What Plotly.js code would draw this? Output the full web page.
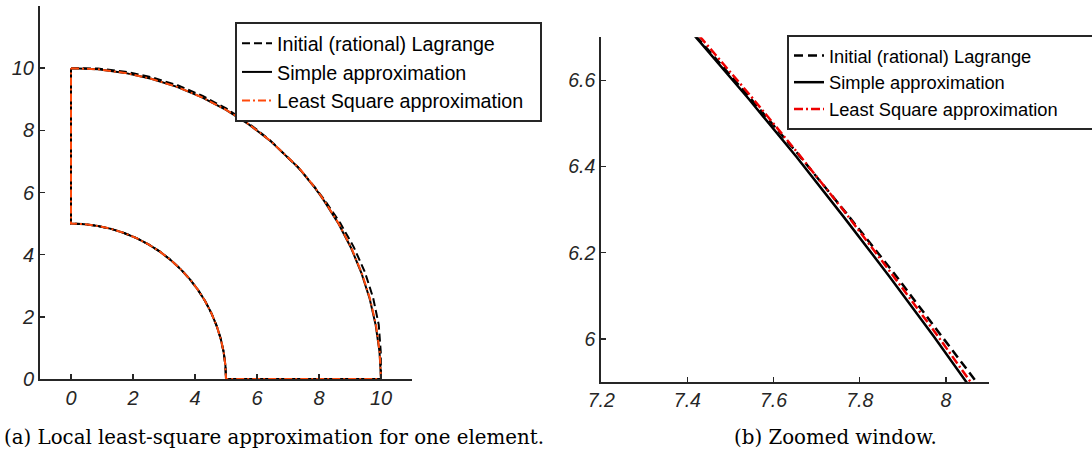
<!DOCTYPE html>
<html>
<head>
<meta charset="utf-8">
<script src="https://cdn.plot.ly/plotly-3.0.1.min.js"></script>
<style>
  html, body { margin: 0; padding: 0; background: #ffffff; }
  #chart { width: 1092px; height: 455px; }
</style>
</head>
<body>
<div id="chart"></div>
<script>
// ---------- data ----------
const seriesNames = ["Initial (rational) Lagrange", "Simple approximation", "Least Square approximation"];

// outer arc, from (0,10) down to (10,0)
const initialOuterX = [0, 0.8738, 1.7434, 2.6011, 3.4390, 4.2473, 5.020, 5.7501, 6.4343, 7.0725, 7.3135, 7.4307, 7.5456, 7.6589, 7.7692, 7.8777, 7.9840, 8.0886, 8.1940, 8.6863, 9.1175, 9.4768, 9.7462, 9.9269, 9.9918, 10];
const initialOuterY = [10, 9.9868, 9.8875, 9.7076, 9.4486, 9.1084, 8.6949, 8.2120, 7.6681, 7.0725, 6.8200, 6.6906, 6.5593, 6.4266, 6.2913, 6.1548, 6.0164, 5.8767, 5.7375, 5.015, 4.2516, 3.4493, 2.6115, 1.7504, 0.8742, 0];

const simpleOuterX = [0, 0.872, 1.736, 2.588, 3.420, 4.226, 5.000, 5.736, 6.428, 7.071, 7.314, 7.4292, 7.5426, 7.6535, 7.7614, 7.8675, 7.9712, 8.0724, 8.1710, 8.6343, 9.0359, 9.3687, 9.6351, 9.8284, 9.9519, 10];
const simpleOuterY = [10, 9.962, 9.848, 9.659, 9.397, 9.063, 8.660, 8.192, 7.660, 7.071, 6.820, 6.6893, 6.5567, 6.4221, 6.2850, 6.1468, 6.0068, 5.8650, 5.7215, 4.985, 4.2135, 3.4099, 2.5817, 1.7330, 0.8707, 0];

const lsqOuterX = [0, 0.872, 1.736, 2.588, 3.420, 4.226, 5.001, 5.7381, 6.4318, 7.0768, 7.3186, 7.4351, 7.5486, 7.6596, 7.7684, 7.8738, 7.9776, 8.0789, 8.1776, 8.6412, 9.0432, 9.3781, 9.6448, 9.8383, 9.9569, 10];
const lsqOuterY = [10, 9.962, 9.848, 9.659, 9.397, 9.063, 8.662, 8.1948, 7.6650, 7.0768, 6.8248, 6.6947, 6.5619, 6.4273, 6.2907, 6.1517, 6.0116, 5.8697, 5.7261, 4.989, 4.2169, 3.4134, 2.5843, 1.7348, 0.8712, 0];

// inner arc, from (5,0) up to (0,5)
const innerX = [5, 4.981, 4.924, 4.830, 4.698, 4.532, 4.330, 4.096, 3.830, 3.536, 3.214, 2.868, 2.5, 2.113, 1.710, 1.294, 0.868, 0.436, 0];
const innerY = [0, 0.436, 0.868, 1.294, 1.710, 2.113, 2.5, 2.868, 3.214, 3.536, 3.830, 4.096, 4.330, 4.532, 4.698, 4.830, 4.924, 4.981, 5];

// ticks
const leftXTicks = [0, 2, 4, 6, 8, 10];
const leftYTicks = [0, 2, 4, 6, 8, 10];
const rightXTicks = [7.2, 7.4, 7.6, 7.8, 8];
const rightXTickText = ["7.2", "7.4", "7.6", "7.8", "8"];
const rightYTicks = [6, 6.2, 6.4, 6.6];
const rightYTickText = ["6", "6.2", "6.4", "6.6"];

const captions = ["(a) Local least-square approximation for one element.", "(b) Zoomed window."];

// ---------- build closed outlines ----------
function outline(ox, oy) {
  return {
    x: ox.concat(innerX, [ox[0]]),
    y: oy.concat(innerY, [oy[0]])
  };
}
const curves = [
  outline(initialOuterX, initialOuterY),
  outline(simpleOuterX, simpleOuterY),
  outline(lsqOuterX, lsqOuterY)
];

const axisColor = '#262626';
const leftStyles = [
  {color: '#000000', width: 2, dash: '8px,4px'},
  {color: '#000000', width: 2, dash: 'solid'},
  {color: '#ff4a0c', width: 2, dash: '8px,3px,2px,3px'}
];
const rightStyles = [
  {color: '#000000', width: 2.5, dash: '9px,5px'},
  {color: '#000000', width: 2.5, dash: 'solid'},
  {color: '#ee0000', width: 2.5, dash: '9px,3px,2px,3px'}
];

const padL = '\u00a0\u00a0';
const padR = '\u00a0\u00a0\u00a0\u00a0\u00a0\u00a0';
const traces = [];
curves.forEach((c, i) => {
  traces.push({
    type: 'scatter', mode: 'lines', x: c.x, y: c.y, name: seriesNames[i] + padL,
    xaxis: 'x', yaxis: 'y', legend: 'legend', line: leftStyles[i]
  });
});
curves.forEach((c, i) => {
  traces.push({
    type: 'scatter', mode: 'lines', x: c.x, y: c.y, name: seriesNames[i] + padR,
    xaxis: 'x2', yaxis: 'y2', legend: 'legend2', line: rightStyles[i]
  });
});

const W = 1092, H = 455;
const tickFontL = {family: 'Liberation Sans, Arial, sans-serif', size: 20, color: axisColor, style: 'italic'};
const tickFontR = {family: 'Liberation Sans, Arial, sans-serif', size: 19.5, color: axisColor, style: 'italic'};

function axisBase(extra) {
  return Object.assign({
    showline: true, linecolor: axisColor, linewidth: 2,
    ticks: 'inside', ticklen: 5, tickwidth: 1.5, tickcolor: axisColor,
    showgrid: false, zeroline: false, mirror: false, fixedrange: true,
    tickmode: 'array'
  }, extra);
}

const layout = {
  width: W, height: H,
  margin: {l: 0, r: 0, t: 0, b: 0, autoexpand: false},
  paper_bgcolor: '#ffffff', plot_bgcolor: '#ffffff',
  showlegend: true,
  xaxis: axisBase({domain: [40 / W, 412 / W], range: [-1, 11], tickvals: leftXTicks, tickfont: tickFontL, anchor: 'y'}),
  yaxis: axisBase({domain: [(H - 379) / H, (H - 6) / H], range: [0, 12], tickvals: leftYTicks, tickfont: tickFontL, anchor: 'x'}),
  xaxis2: axisBase({domain: [601.2 / W, 989 / W], range: [7.2, 8.1], tickvals: rightXTicks, ticktext: rightXTickText, tickfont: tickFontR, anchor: 'y2'}),
  yaxis2: axisBase({domain: [(H - 382) / H, (H - 37.3) / H], range: [5.9, 6.7], tickvals: rightYTicks, ticktext: rightYTickText, tickfont: tickFontR, anchor: 'x2'}),
  legend: {
    x: 235 / W, y: (H - 22) / H, xanchor: 'left', yanchor: 'top',
    bgcolor: '#ffffff', bordercolor: axisColor, borderwidth: 2,
    font: {family: 'Liberation Sans, Arial, sans-serif', size: 19.7, color: '#000000'}
  },
  legend2: {
    x: 787 / W, y: (H - 35) / H, xanchor: 'left', yanchor: 'top',
    bgcolor: '#ffffff', bordercolor: axisColor, borderwidth: 2,
    font: {family: 'Liberation Sans, Arial, sans-serif', size: 18.3, color: '#000000'}
  },
  annotations: [
    {text: captions[0], xref: 'paper', yref: 'paper', x: 274 / W, y: (H - 437) / H,
     xanchor: 'center', yanchor: 'middle', showarrow: false,
     font: {family: 'DejaVu Serif, serif', size: 19.8, color: '#000000'}},
    {text: captions[1], xref: 'paper', yref: 'paper', x: 835 / W, y: (H - 437) / H,
     xanchor: 'center', yanchor: 'middle', showarrow: false,
     font: {family: 'DejaVu Serif, serif', size: 19.8, color: '#000000'}}
  ]
};

Plotly.newPlot('chart', traces, layout, {displayModeBar: false, staticPlot: true});
</script>
</body>
</html>
